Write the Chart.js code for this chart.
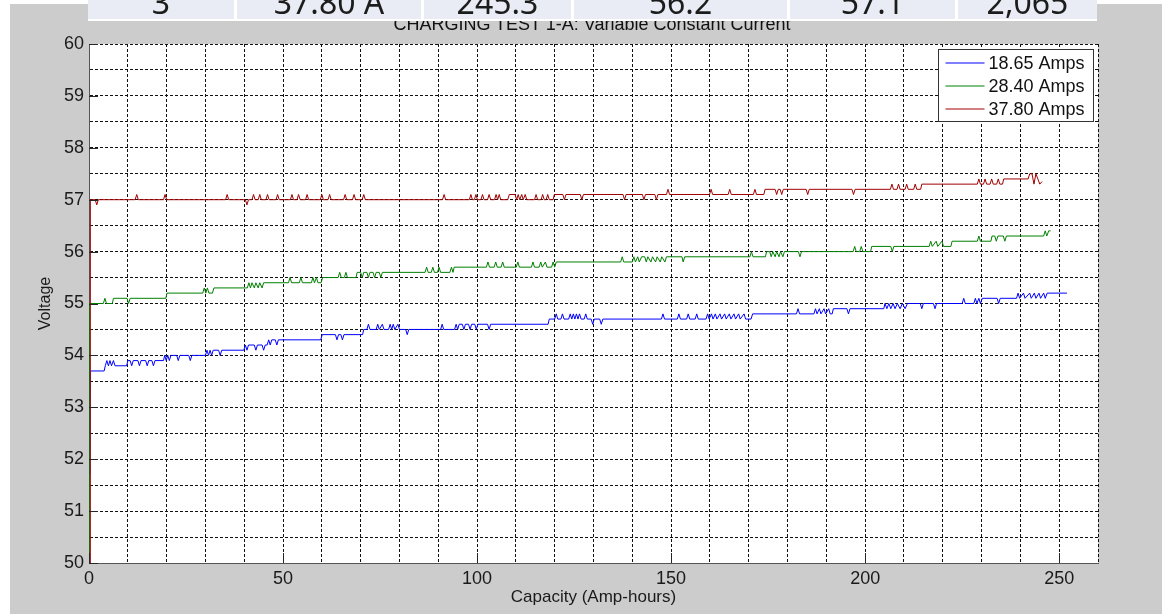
<!DOCTYPE html>
<html>
<head>
<meta charset="utf-8">
<script src="https://cdn.jsdelivr.net/npm/chart.js@4.4.0/dist/chart.umd.min.js"></script>
<style>
  html, body { margin: 0; padding: 0; background: #fff; width: 1162px; height: 614px; overflow: hidden; }
  #figure { position: absolute; left: 10px; top: 4px; width: 1152px; height: 610px; background: #cccccc; }
  #title { position: absolute; left: 0; top: 15px; width: 1184px; text-align: center;
           font: 18px "Liberation Sans", Arial, sans-serif; line-height: 18px; color: #111; z-index: 1; }
  #table { position: absolute; left: 88px; top: 0; width: 1009px; height: 21px; display: flex;
           background: #fff; z-index: 2; }
  #table div { height: 19px; background: #e9ecf5; overflow: hidden; text-align: center; margin-right: 3px;
               font: 32px "Noto Sans", sans-serif; line-height: 32px; color: #1c1c1c; }
  #table div:last-child { margin-right: 0; }
  #table span { position: relative; top: -14px; }
</style>
</head>
<body>
<div id="table"></div>
<div id="title">CHARGING TEST 1-A: Variable Constant Current</div>
<div id="figure"><canvas id="chart"></canvas></div>
<script>
// table fragment above the plot
const tableCells = ['3', '37.80 A', '245.3', '56.2', '57.1', '2,065'];
const tableWidths = [146, 184, 147, 213, 165, 139];

// tick labels
const xTickLabels = [0, 50, 100, 150, 200, 250];
const yTickLabels = [50, 51, 52, 53, 54, 55, 56, 57, 58, 59, 60];

const seriesLabels = ['18.65 Amps', '28.40 Amps', '37.80 Amps'];
const seriesColors = ['#0000ff', '#008000', '#a00000'];

// [capacity (Ah), voltage]
const amps1865 = [
  [0.2, 51.7], [0.3, 53.7], [3.9, 53.7], [4.2, 53.8], [4.6, 53.9], [5.0, 53.8], [5.4, 53.9], [5.8, 53.8], [6.3, 53.9], [6.7, 53.8],
  [9.7, 53.8], [10.0, 53.9], [10.6, 53.9], [11.0, 53.8], [11.4, 53.9], [12.6, 53.9], [13.0, 53.8], [13.4, 53.9], [14.6, 53.9], [15.0, 53.8], [15.4, 53.9], [16.2, 53.9], [16.6, 53.8], [17.0, 53.9],
  [19.2, 53.9], [19.5, 54.0], [19.9, 53.9], [20.3, 54.0], [20.7, 53.9], [21.1, 54.0], [22.6, 54.0], [23.0, 53.9], [23.4, 54.0], [25.7, 54.0], [26.1, 53.9], [26.5, 54.0],
  [30.0, 54.0], [30.4, 54.1], [30.8, 54.0], [31.2, 54.1], [31.6, 54.0], [32.0, 54.1], [33.4, 54.1], [33.8, 54.0], [34.2, 54.1],
  [39.9, 54.1], [40.3, 54.2], [40.7, 54.1], [41.1, 54.2], [42.6, 54.2], [43.0, 54.1], [43.4, 54.2], [44.6, 54.2], [45.0, 54.1], [45.4, 54.2],
  [45.9, 54.2], [46.3, 54.3], [46.7, 54.2], [47.1, 54.3], [48.0, 54.3], [48.4, 54.2], [48.8, 54.3],
  [59.7, 54.3], [60.1, 54.4], [63.5, 54.4], [63.9, 54.3], [64.3, 54.4], [64.9, 54.4], [65.3, 54.3], [65.7, 54.4],
  [70.5, 54.4], [70.8, 54.5], [71.6, 54.5], [72.0, 54.6], [72.4, 54.5], [74.0, 54.5], [74.4, 54.6], [74.8, 54.5], [75.6, 54.6], [76.0, 54.5],
  [77.2, 54.5], [77.6, 54.6], [78.0, 54.5], [78.4, 54.6], [78.8, 54.5], [79.6, 54.6], [80.0, 54.5], [81.6, 54.5], [82.0, 54.4], [82.4, 54.5],
  [90.6, 54.5], [91.0, 54.6], [91.4, 54.5], [94.2, 54.5], [94.6, 54.6], [95.0, 54.5], [95.4, 54.6], [96.2, 54.6], [96.6, 54.5], [97.0, 54.6],
  [97.8, 54.6], [98.2, 54.5], [98.6, 54.6], [99.4, 54.6], [99.8, 54.5], [100.2, 54.6], [102.7, 54.6], [103.1, 54.5], [103.5, 54.6],
  [118.3, 54.6], [118.6, 54.7], [120.0, 54.7], [120.4, 54.8], [120.8, 54.7], [121.6, 54.7], [122.0, 54.8], [122.4, 54.7], [123.6, 54.7], [124.0, 54.8],
  [124.4, 54.7], [124.8, 54.8], [125.2, 54.7], [125.6, 54.8], [126.0, 54.7], [126.4, 54.8], [126.8, 54.7], [127.6, 54.7], [128.0, 54.8], [128.4, 54.7],
  [129.4, 54.7], [129.8, 54.6], [130.2, 54.7], [131.6, 54.7], [132.0, 54.6], [132.4, 54.7],
  [147.5, 54.7], [147.9, 54.8], [148.3, 54.7], [151.6, 54.7], [152.0, 54.8], [152.4, 54.7], [154.0, 54.7], [154.4, 54.8], [154.8, 54.7], [156.2, 54.7], [156.6, 54.8], [157.0, 54.7],
  [159.0, 54.7], [159.4, 54.8], [159.8, 54.7], [160.4, 54.8], [160.8, 54.7], [161.4, 54.8], [161.8, 54.7], [162.6, 54.8], [163.0, 54.7], [163.8, 54.8],
  [164.2, 54.7], [165.0, 54.8], [165.4, 54.7], [166.2, 54.8], [166.6, 54.7], [167.4, 54.8], [167.8, 54.7], [168.8, 54.8], [169.2, 54.7], [170.6, 54.7], [171.0, 54.8],
  [182.3, 54.8], [182.7, 54.9], [183.1, 54.8], [186.8, 54.8], [187.2, 54.9], [187.6, 54.8], [188.2, 54.9], [188.6, 54.8], [189.4, 54.9], [189.8, 54.8],
  [190.6, 54.9], [191.0, 54.8], [191.5, 54.8], [191.8, 54.9], [195.3, 54.9], [195.7, 54.8], [196.1, 54.9],
  [204.8, 54.9], [205.1, 55.0], [205.6, 54.9], [206.1, 55.0], [206.6, 54.9], [207.2, 55.0], [207.7, 54.9], [208.3, 55.0], [209.0, 54.9], [209.6, 55.0],
  [210.3, 54.9], [210.9, 55.0], [214.2, 55.0], [214.6, 54.9], [215.0, 55.0], [217.6, 55.0], [218.0, 54.9], [218.4, 55.0],
  [225.0, 55.0], [225.4, 55.1], [225.8, 55.0], [228.0, 55.0], [228.4, 55.1], [228.8, 55.0], [229.3, 55.1], [229.7, 55.0], [230.2, 55.1],
  [234.0, 55.1], [234.4, 55.0], [234.8, 55.1],
  [239.0, 55.1], [239.4, 55.2], [239.8, 55.1], [240.8, 55.2], [241.2, 55.1], [242.4, 55.2], [242.8, 55.1], [243.6, 55.2], [244.0, 55.1],
  [244.8, 55.2], [245.2, 55.1], [246.0, 55.2], [246.4, 55.1], [246.9, 55.2], [252.0, 55.2]
];

const amps2840 = [
  [0, 50.0], [0.1, 55.0], [3.7, 55.0], [4.1, 55.1], [4.5, 55.0], [6.0, 55.0], [6.3, 55.1],
  [9.8, 55.1], [10.2, 55.0], [10.6, 55.1], [19.8, 55.1], [20.1, 55.2],
  [29.3, 55.2], [29.7, 55.3], [30.1, 55.2], [30.5, 55.3], [30.9, 55.2], [31.8, 55.2], [32.2, 55.3],
  [40.8, 55.3], [41.2, 55.4], [41.6, 55.3], [42.0, 55.4], [42.6, 55.3], [43.0, 55.4], [43.6, 55.3], [44.0, 55.4], [44.6, 55.3], [45.0, 55.4],
  [51.4, 55.4], [51.8, 55.5], [52.2, 55.4], [54.2, 55.4], [54.6, 55.5], [55.0, 55.4],
  [57.3, 55.4], [57.7, 55.5], [58.1, 55.4], [58.6, 55.5], [59.0, 55.4], [59.8, 55.4], [60.2, 55.5],
  [64.2, 55.5], [64.6, 55.6], [65.0, 55.5], [65.8, 55.5], [66.2, 55.6], [66.6, 55.5],
  [68.8, 55.5], [69.1, 55.6], [70.0, 55.6], [70.4, 55.5], [70.8, 55.6], [71.6, 55.6], [72.0, 55.5], [72.4, 55.6], [73.2, 55.6], [73.6, 55.5], [74.0, 55.6],
  [74.8, 55.6], [75.2, 55.5], [75.6, 55.6],
  [86.6, 55.6], [87.0, 55.7], [87.4, 55.6], [88.2, 55.6], [88.6, 55.7], [89.0, 55.6], [89.8, 55.6], [90.2, 55.7], [90.6, 55.6], [93.0, 55.6], [93.4, 55.7], [93.8, 55.6], [94.1, 55.7],
  [102.4, 55.7], [102.8, 55.8], [103.2, 55.7], [104.4, 55.7], [104.8, 55.8], [105.2, 55.7], [106.2, 55.7], [106.6, 55.8], [107.0, 55.7], [110.1, 55.7], [110.5, 55.8], [110.9, 55.7],
  [114.0, 55.7], [114.4, 55.8], [114.8, 55.7], [116.0, 55.7], [116.4, 55.8], [116.8, 55.7], [117.6, 55.8], [118.0, 55.7], [119.2, 55.7], [119.6, 55.8], [120.0, 55.7], [120.4, 55.8],
  [137.0, 55.8], [137.4, 55.9], [137.8, 55.8], [140.0, 55.8], [140.4, 55.9], [140.8, 55.8], [141.4, 55.9], [141.8, 55.8], [142.4, 55.9],
  [143.2, 55.9], [143.6, 55.8], [144.0, 55.9], [144.8, 55.8], [145.2, 55.9], [146.0, 55.8], [146.4, 55.9], [147.2, 55.8], [147.6, 55.9], [148.4, 55.8], [148.8, 55.9],
  [152.8, 55.9], [153.1, 55.8], [153.5, 55.9],
  [170.3, 55.9], [170.7, 56.0], [171.1, 55.9], [174.3, 55.9], [174.6, 56.0], [175.4, 56.0], [175.8, 55.9], [176.2, 56.0], [176.8, 55.9], [177.2, 56.0],
  [177.8, 55.9], [178.2, 56.0], [178.8, 55.9], [179.2, 56.0], [182.8, 56.0], [183.2, 55.9], [183.6, 56.0],
  [196.9, 56.0], [197.3, 56.1], [197.7, 56.0], [198.6, 56.0], [199.0, 56.1], [199.4, 56.0], [201.4, 56.0], [201.7, 56.1],
  [206.6, 56.1], [207.0, 56.0], [207.4, 56.1],
  [216.5, 56.1], [216.9, 56.2], [217.3, 56.1], [218.3, 56.2], [218.7, 56.1], [219.8, 56.2], [220.2, 56.1], [222.1, 56.1], [222.4, 56.2],
  [228.9, 56.2], [229.3, 56.3], [229.7, 56.2], [232.4, 56.2], [232.7, 56.3], [233.4, 56.3], [233.8, 56.2], [234.2, 56.3], [235.6, 56.3], [236.0, 56.2], [236.4, 56.3],
  [246.0, 56.3], [246.4, 56.4], [246.8, 56.3], [247.3, 56.4], [247.8, 56.4]
];

const amps3780 = [
  [0.3, 50.0], [0.35, 57.0], [1.6, 57.0], [2.0, 56.9], [2.4, 57.0],
  [11.9, 57.0], [12.3, 57.1], [12.7, 57.0], [19.2, 57.0], [19.6, 57.1], [20.0, 57.0], [35.2, 57.0], [35.6, 57.1], [36.0, 57.0],
  [40.3, 57.0], [40.7, 56.9], [41.1, 57.0],
  [42.0, 57.0], [42.4, 57.1], [42.8, 57.0], [43.6, 57.0], [44.0, 57.1], [44.4, 57.0], [45.6, 57.0], [46.0, 57.1], [46.4, 57.0], [48.2, 57.0], [48.6, 57.1], [49.0, 57.0],
  [51.9, 57.0], [52.3, 57.1], [52.7, 57.0], [53.6, 57.0], [54.0, 57.1], [54.4, 57.0], [55.8, 57.0], [56.2, 57.1], [56.6, 57.0],
  [59.6, 57.0], [60.0, 57.1], [60.4, 57.0], [61.6, 57.0], [62.0, 57.1], [62.4, 57.0],
  [65.6, 57.0], [66.0, 57.1], [66.4, 57.0], [67.9, 57.0], [68.3, 57.1], [68.7, 57.0], [70.4, 57.0], [70.8, 57.1], [71.2, 57.0],
  [91.1, 57.0], [91.5, 57.1], [91.9, 57.0],
  [98.0, 57.0], [98.4, 57.1], [98.8, 57.0], [99.3, 57.0], [99.7, 57.1], [100.1, 57.0], [101.0, 57.0], [101.4, 57.1], [101.8, 57.0],
  [102.7, 57.0], [103.1, 57.1], [103.5, 57.0], [104.5, 57.0], [104.9, 57.1], [105.3, 57.0], [105.7, 57.1], [106.1, 57.0],
  [107.9, 57.0], [108.3, 57.1], [109.8, 57.1], [110.2, 57.0], [110.6, 57.1], [111.0, 57.0], [111.5, 57.1], [111.9, 57.0], [112.4, 57.1], [112.8, 57.0],
  [114.8, 57.0], [115.2, 57.1], [115.6, 57.0], [116.5, 57.0], [116.9, 57.1], [117.3, 57.0], [117.8, 57.0], [118.2, 57.1], [118.6, 57.0], [119.6, 57.0], [119.9, 57.1],
  [122.1, 57.1], [122.5, 57.0], [122.9, 57.1], [126.6, 57.1], [127.0, 57.0], [127.4, 57.1],
  [137.6, 57.1], [138.0, 57.0], [138.4, 57.1], [142.6, 57.1], [143.0, 57.0], [143.4, 57.1], [145.8, 57.1], [146.2, 57.0], [146.6, 57.1],
  [148.8, 57.1], [149.2, 57.2], [149.6, 57.1],
  [159.9, 57.1], [160.3, 57.2], [160.7, 57.1], [164.7, 57.1], [165.1, 57.2], [165.5, 57.1], [171.2, 57.1], [171.6, 57.2], [172.0, 57.1],
  [173.9, 57.1], [174.2, 57.2], [176.8, 57.2], [177.2, 57.1], [177.6, 57.2], [178.1, 57.2], [178.5, 57.1], [178.9, 57.2],
  [184.8, 57.2], [185.2, 57.1], [185.6, 57.2], [196.6, 57.2], [197.0, 57.1], [197.4, 57.2],
  [206.5, 57.2], [206.9, 57.3], [207.3, 57.2], [208.2, 57.2], [208.6, 57.3], [209.0, 57.2], [210.3, 57.2], [210.7, 57.3], [211.1, 57.2],
  [212.5, 57.2], [212.9, 57.3], [213.3, 57.2], [214.3, 57.2], [214.6, 57.3],
  [228.9, 57.3], [229.3, 57.4], [229.7, 57.3], [230.5, 57.3], [230.9, 57.4], [231.3, 57.3], [232.2, 57.3], [232.6, 57.4], [233.0, 57.3],
  [233.9, 57.3], [234.3, 57.4], [234.7, 57.3], [235.4, 57.3], [235.7, 57.4],
  [242.0, 57.4], [242.4, 57.5], [243.0, 57.5], [243.5, 57.3], [244.0, 57.5], [244.5, 57.4], [245.0, 57.3], [245.6, 57.35]
];

const FONT = '"Liberation Sans", Arial, sans-serif';

// table fragment
const tableEl = document.getElementById('table');
tableCells.forEach((txt, i) => {
  const cell = document.createElement('div');
  cell.style.width = tableWidths[i] + 'px';
  const span = document.createElement('span');
  span.textContent = txt;
  cell.appendChild(span);
  tableEl.appendChild(cell);
});

// white plot area
const plotBg = {
  id: 'plotBg',
  beforeDraw(chart) {
    const { ctx, chartArea: a } = chart;
    ctx.save();
    ctx.fillStyle = '#ffffff';
    ctx.fillRect(a.left, a.top, a.right - a.left, a.bottom - a.top);
    ctx.restore();
  }
};

// matlab style inward tick marks
const innerTicks = {
  id: 'innerTicks',
  afterDatasetsDraw(chart) {
    const { ctx, chartArea: a, scales } = chart;
    ctx.save();
    ctx.strokeStyle = '#262626';
    ctx.lineWidth = 1;
    ctx.beginPath();
    xTickLabels.forEach(v => {
      const x = Math.round(scales.x.getPixelForValue(v)) + 0.5;
      ctx.moveTo(x, a.bottom);
      ctx.lineTo(x, a.bottom - 10);
    });
    yTickLabels.forEach(v => {
      const y = Math.round(scales.y.getPixelForValue(v)) + 0.5;
      ctx.moveTo(a.left, y);
      ctx.lineTo(a.left + 9, y);
    });
    ctx.stroke();
    ctx.restore();
  }
};

// legend box inside the plot, top right
const boxLegend = {
  id: 'boxLegend',
  afterDraw(chart) {
    const { ctx, chartArea: a } = chart;
    const w = 155, h = 72;
    const left = Math.round(a.right - 5 - w) + 0.5;
    const top = Math.round(a.top + 5) + 0.5;
    ctx.save();
    ctx.fillStyle = '#fff';
    ctx.fillRect(left, top, w, h);
    ctx.strokeStyle = '#333';
    ctx.lineWidth = 1;
    ctx.strokeRect(left, top, w, h);
    ctx.font = '18px ' + FONT;
    ctx.textBaseline = 'middle';
    chart.data.datasets.forEach((ds, i) => {
      const y = Math.round(top + 13.5 + i * 22.8);
      ctx.strokeStyle = seriesColors[i];
      ctx.lineWidth = 1;
      ctx.beginPath();
      ctx.moveTo(left + 7, y);
      ctx.lineTo(left + 46, y);
      ctx.stroke();
      ctx.fillStyle = '#111';
      ctx.fillText(ds.label, left + 50, y + 1);
    });
    ctx.restore();
  }
};

const series = [amps1865, amps2840, amps3780];

new Chart(document.getElementById('chart'), {
  type: 'line',
  data: {
    datasets: series.map((pts, i) => ({
      label: seriesLabels[i],
      data: pts.map(p => ({ x: p[0], y: p[1] })),
      borderColor: seriesColors[i],
      borderWidth: 1,
      pointRadius: 0,
      tension: 0,
      fill: false,
      order: 3 - i
    }))
  },
  options: {
    responsive: true,
    maintainAspectRatio: false,
    animation: false,
    devicePixelRatio: 1,
    layout: { padding: { top: 40, right: 64, left: 0, bottom: 0 } },
    plugins: {
      legend: { display: false },
      tooltip: { enabled: false },
      title: { display: false }
    },
    scales: {
      x: {
        type: 'linear',
        min: 0,
        max: 260,
        afterFit(scale) { scale.height = 51; },
        ticks: {
          stepSize: 10,
          autoSkip: false,
          maxRotation: 0,
          padding: 5,
          color: '#1a1a1a',
          font: { family: FONT, size: 18 },
          callback: v => xTickLabels.includes(v) ? String(v) : ''
        },
        grid: { color: '#111', lineWidth: 1, drawTicks: false },
        border: { display: true, color: '#555', width: 1, dash: [3, 2] },
        title: {
          display: true,
          text: 'Capacity (Amp-hours)',
          color: '#1a1a1a',
          font: { family: FONT, size: 17 },
          padding: { top: 0, bottom: 6 }
        }
      },
      y: {
        min: 50,
        max: 60,
        afterFit(scale) { scale.width = 79; },
        ticks: {
          stepSize: 0.5,
          autoSkip: false,
          padding: 5,
          color: '#1a1a1a',
          font: { family: FONT, size: 18 },
          callback: v => yTickLabels.includes(v) ? String(v) : ''
        },
        grid: { color: '#111', lineWidth: 1, drawTicks: false },
        border: { display: true, color: '#555', width: 1, dash: [3, 2] },
        title: {
          display: true,
          text: 'Voltage',
          color: '#1a1a1a',
          font: { family: FONT, size: 16 },
          padding: { top: 26, bottom: 0 }
        }
      }
    }
  },
  plugins: [plotBg, innerTicks, boxLegend]
});
</script>
</body>
</html>
